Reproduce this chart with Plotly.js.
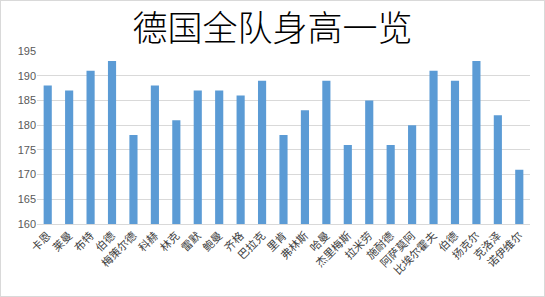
<!DOCTYPE html>
<html><head><meta charset="utf-8">
<script src="https://cdn.plot.ly/plotly-3.0.1.min.js"></script>
<style>html,body{margin:0;padding:0;background:#fff;}#c{width:543px;height:295px;border:1px solid #d9d9d9;}</style>
</head><body><div id="c"></div>
<script>
const players = ["卡恩","莱曼","布特","伯德","梅策尔德","科赫","林克","雷默","鲍曼","齐格","巴拉克","里肯","弗林斯","哈曼","杰里梅斯","拉米劳","施耐德","阿萨莫阿","比埃尔霍夫","伯德","扬克尔","克洛泽","诺伊维尔"];
const heights = [188,187,191,193,178,188,181,187,187,186,189,178,183,189,176,185,176,180,191,189,193,182,171];
const yTicks = [160,165,170,175,180,185,190,195];
const idx = players.map((_, i) => i);
const font = '"Noto Sans CJK SC", "Liberation Sans", sans-serif';
Plotly.newPlot('c', [{
  type: 'bar', x: idx, y: heights,
  marker: {color: '#5b9bd5'}, width: 0.38, hoverinfo: 'none'
}], {
  width: 543, height: 295,
  margin: {l: 36, r: 14, t: 50, b: 72},
  paper_bgcolor: '#fff', plot_bgcolor: '#fff',
  title: {text: '德国全队身高一览', font: {family: font, size: 35, color: '#000', weight: 300}, x: 0.5, xanchor: 'center', yref: 'container', y: 0.905, yanchor: 'middle'},
  xaxis: {tickvals: idx, ticktext: players, tickangle: -45, range: [-0.5, players.length - 0.5],
    tickfont: {family: font, size: 11, color: '#404040'}, showgrid: false, showline: true, linecolor: '#d9d9d9', ticks: '', zeroline: false, fixedrange: true},
  yaxis: {range: [160, 195], tickvals: yTicks, tickfont: {family: '"Liberation Sans", sans-serif', size: 11, color: '#595959'},
    gridcolor: '#d9d9d9', showline: false, zeroline: false, ticks: '', ticklen: 0, fixedrange: true},
  showlegend: false
}, {displayModeBar: false, staticPlot: true});
</script></body></html>
